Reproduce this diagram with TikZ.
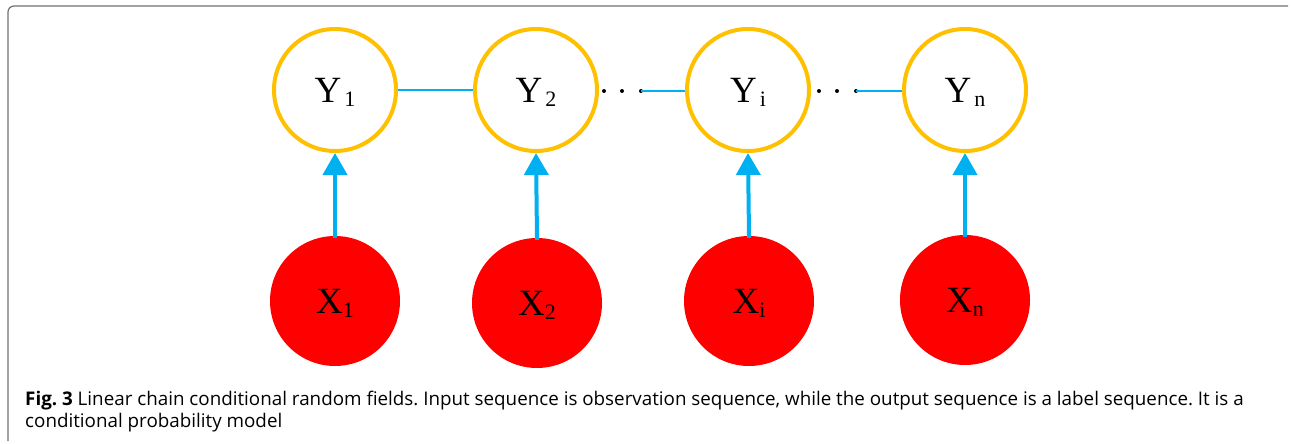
\documentclass[tikz,border=0pt]{standalone}
\usepackage{fontspec}
\setmainfont{Liberation Serif}
\newfontfamily\capfont{Open Sans}
\usetikzlibrary{arrows.meta}
\definecolor{ringorange}{HTML}{FFC000}
\definecolor{linkblue}{HTML}{00B0F0}
\definecolor{obsred}{HTML}{FF0000}
\definecolor{framegray}{HTML}{707070}
% a letter with a lowered index that does not change the box depth
\newcommand{\lbl}[3]{#1\hspace{#3}\smash{\raisebox{-4.5pt}{\fontsize{22}{22}\selectfont #2}}}
\begin{document}
\begin{tikzpicture}[x=1pt,y=-1pt,
  ynode/.style={circle,draw=ringorange,line width=4pt,fill=white,minimum size=122pt,inner sep=0pt,font=\fontsize{37}{37}\selectfont},
  xnode/.style={circle,fill=obsred,minimum size=130pt,inner sep=0pt,font=\fontsize{37}{37}\selectfont},
  uparrow/.style={draw=linkblue,line width=4pt,-{Triangle[width=24pt,length=22pt]},shorten <=-2pt},
  chain/.style={draw=linkblue,line width=2pt},
  dotmark/.style={circle,fill=black,inner sep=0pt,minimum size=4pt},
  captext/.style={anchor=base west,inner sep=0pt,font=\capfont\fontsize{18.8}{22}\selectfont\frenchspacing}]
\useasboundingbox (0,0) rectangle (1292,444);
% frame
\draw[framegray,line width=1.2pt,rounded corners=6pt] (8,441) -- (8,6) -- (1288,6);
% observation nodes
\node[xnode] (x1) at (335,301) {\lbl{X}{1}{0pt}};
\node[xnode] (x2) at (537,303) {\lbl{X}{2}{0pt}};
\node[xnode] (xi) at (749,301) {\lbl{X}{i}{0pt}};
\node[xnode] (xn) at (965,300) {\lbl{X}{n}{0pt}};
% label nodes
\node[ynode] (y1) at (335,90) {\lbl{Y}{1}{3pt}};
\node[ynode] (y2) at (536,90) {\lbl{Y}{2}{3pt}};
\node[ynode] (yi) at (748,90) {\lbl{Y}{i}{3pt}};
\node[ynode] (yn) at (965,90) {\lbl{Y}{n}{3pt}};
% dotted gaps
\node[dotmark] (d1) at (604,91) {};
\node[dotmark] (d2) at (622,91) {};
\node[dotmark] (d3) at (641,91) {};
\node[dotmark] (e1) at (819,91) {};
\node[dotmark] (e2) at (837,91) {};
\node[dotmark] (e3) at (856,91) {};
% chain links
\draw[chain] (y1.east) -- (y2.west);
\draw[chain] (d3.center) -- (d3.center -| yi.west);
\draw[chain] (e3.center) -- (e3.center -| yn.west);
% observation to label arrows
\draw[uparrow] (x1.north) -- (y1.south);
\draw[uparrow] (x2.north) -- (y2.south);
\draw[uparrow] (xi.north) -- (yi.south);
\draw[uparrow] (xn.north) -- (yn.south);
% caption
\node[captext] (cap1) at (25,405)
  {\textbf{Fig. 3} Linear chain conditional random fields. Input sequence is observation sequence, while the output sequence is a label sequence. It is a};
\node[captext] (cap2) at (25,427)
  {conditional probability model};
\end{tikzpicture}
\end{document}
